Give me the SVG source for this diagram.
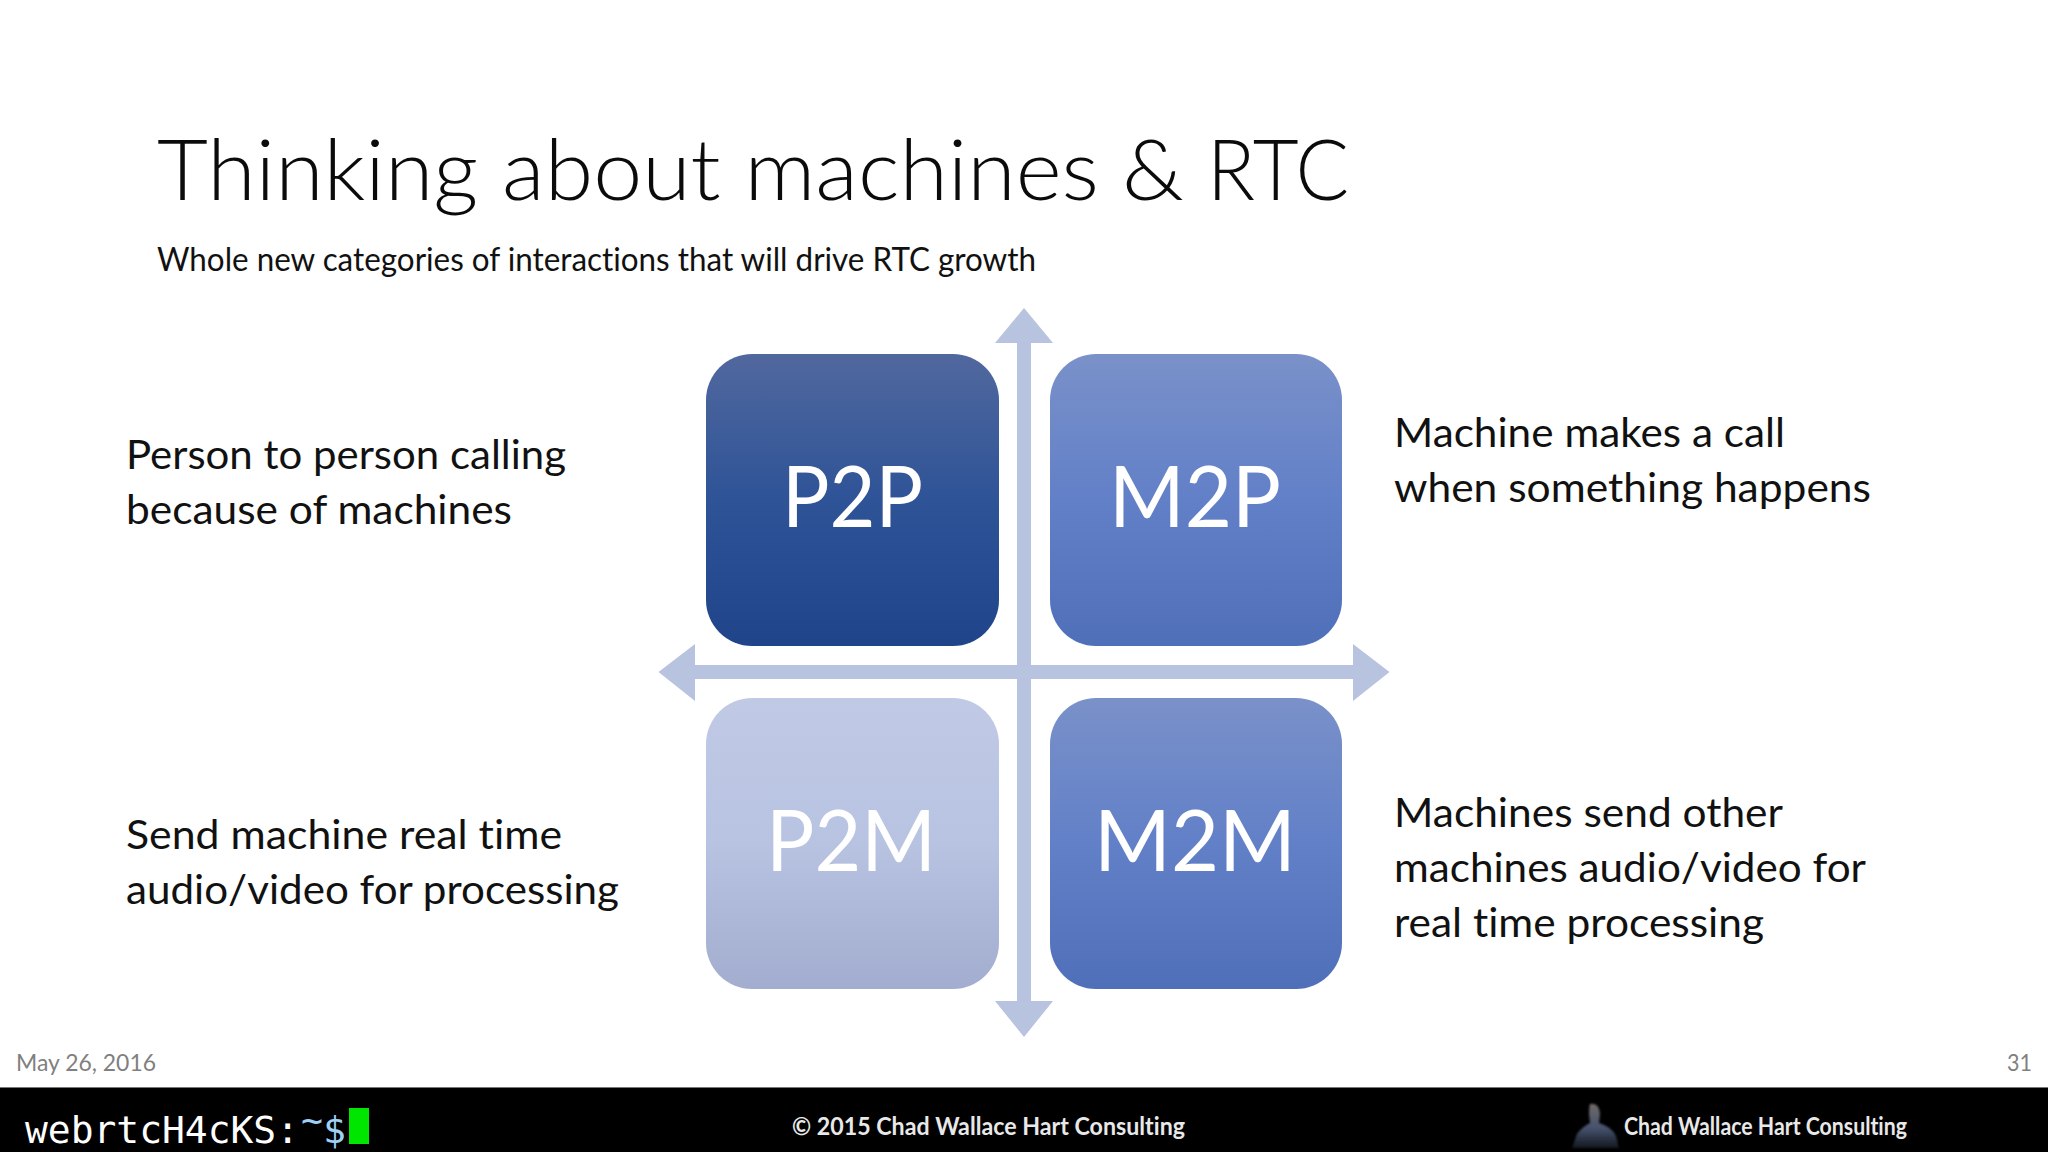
<svg xmlns="http://www.w3.org/2000/svg" width="2048" height="1152" viewBox="0 0 2048 1152">
<defs>
<style>
text{font-family:"Lato","Open Sans","Liberation Sans",sans-serif;font-variant-ligatures:none}
.title{font-size:85px;font-weight:300;fill:#0b0b0b}
.sub{font-size:32px;fill:#111}
.note{font-size:41px;fill:#111}
.lab{font-size:86px;font-weight:400;fill:#fff}
.foot{font-size:23px;fill:#808080}
.bar{font-size:24px;font-weight:700;fill:#e8e8e8}
.mono{font-family:"DejaVu Sans Mono","Liberation Mono",monospace;font-size:38px}
.axis{fill:#b8c3df}
</style>
<linearGradient id="g1" x1="0" y1="0" x2="0" y2="1"><stop offset="0" stop-color="#51689e"/><stop offset="0.5" stop-color="#2e5397"/><stop offset="1" stop-color="#20448a"/></linearGradient>
<linearGradient id="g2" x1="0" y1="0" x2="0" y2="1"><stop offset="0" stop-color="#7a91c9"/><stop offset="0.5" stop-color="#6280c8"/><stop offset="1" stop-color="#4f6fb8"/></linearGradient>
<linearGradient id="g3" x1="0" y1="0" x2="0" y2="1"><stop offset="0" stop-color="#c0cae5"/><stop offset="0.5" stop-color="#b8c3e2"/><stop offset="1" stop-color="#a2adcf"/></linearGradient>
<linearGradient id="g5" x1="0" y1="0" x2="0" y2="1"><stop offset="0" stop-color="#6f6a68"/><stop offset="0.55" stop-color="#46526e"/><stop offset="1" stop-color="#14181f"/></linearGradient>
<filter id="soft" x="-10%" y="-10%" width="120%" height="120%"><feGaussianBlur stdDeviation="1.200"/></filter>
</defs>
<rect width="2048" height="1152" fill="#fff"/>
<text class="title" x="157" y="200" textLength="942" lengthAdjust="spacingAndGlyphs">Thinking about machines</text>
<text class="title" x="1122" y="200" textLength="62" lengthAdjust="spacingAndGlyphs">&amp;</text>
<text class="title" x="1207" y="200" textLength="142" lengthAdjust="spacingAndGlyphs">RTC</text>
<text class="sub" x="157" y="271" textLength="879" lengthAdjust="spacingAndGlyphs">Whole new categories of interactions that will drive RTC growth</text>
<g id="connectors">
<path class="axis" d="M1024 308L1053 343H1031V665H1353V644L1389.500 672L1353 701V679H1031V1001H1053L1024 1037L995 1001H1017V679H695V701L658.500 672L695 644V665H1017V343H995Z"/>
</g>
<g id="p2p"><rect x="706" y="354" width="293" height="292" rx="46" fill="url(#g1)"/><text class="lab" x="782" y="527" textLength="141" lengthAdjust="spacingAndGlyphs">P2P</text></g>
<g id="m2p"><rect x="1050" y="354" width="292" height="292" rx="46" fill="url(#g2)"/><text class="lab" x="1109" y="527" textLength="172" lengthAdjust="spacingAndGlyphs">M2P</text></g>
<g id="p2m"><rect x="706" y="698" width="293" height="291" rx="46" fill="url(#g3)"/><text class="lab" x="766" y="871" textLength="170" lengthAdjust="spacingAndGlyphs">P2M</text></g>
<g id="m2m"><rect x="1050" y="698" width="292" height="291" rx="46" fill="url(#g2)"/><text class="lab" x="1094" y="871" textLength="202" lengthAdjust="spacingAndGlyphs">M2M</text></g>
<text class="note" x="126" y="469" textLength="440" lengthAdjust="spacingAndGlyphs">Person to person calling</text>
<text class="note" x="126" y="524" textLength="386" lengthAdjust="spacingAndGlyphs">because of machines</text>
<text class="note" x="126" y="849" textLength="436" lengthAdjust="spacingAndGlyphs">Send machine real time</text>
<text class="note" x="126" y="904" textLength="493" lengthAdjust="spacingAndGlyphs">audio/video for processing</text>
<text class="note" x="1394" y="447" textLength="391" lengthAdjust="spacingAndGlyphs">Machine makes a call</text>
<text class="note" x="1394" y="502" textLength="477" lengthAdjust="spacingAndGlyphs">when something happens</text>
<text class="note" x="1394" y="827" textLength="389" lengthAdjust="spacingAndGlyphs">Machines send other</text>
<text class="note" x="1394" y="882" textLength="472" lengthAdjust="spacingAndGlyphs">machines audio/video for</text>
<text class="note" x="1394" y="937" textLength="370" lengthAdjust="spacingAndGlyphs">real time processing</text>
<text class="foot" x="16" y="1071" textLength="140" lengthAdjust="spacingAndGlyphs">May 26, 2016</text>
<text class="foot" x="2007" y="1071" textLength="25" lengthAdjust="spacingAndGlyphs">31</text>
<rect y="1087" width="2048" height="65" fill="#000"/>
<rect y="1087" width="2048" height="1" fill="#777"/>
<text class="mono" x="25" y="1143" fill="#fff" textLength="274" lengthAdjust="spacingAndGlyphs">webrtcH4cKS:</text>
<text class="mono" x="301" y="1133" fill="#9fd0f5" textLength="22" lengthAdjust="spacingAndGlyphs">~</text>
<text class="mono" x="323" y="1143" fill="#9fd0f5" textLength="23" lengthAdjust="spacingAndGlyphs">$</text>
<rect x="349" y="1108" width="20" height="36" fill="#00e600"/>
<text class="bar" x="792" y="1135" textLength="393" lengthAdjust="spacingAndGlyphs">© 2015 Chad Wallace Hart Consulting</text>
<text class="bar" x="1624" y="1135" textLength="283" lengthAdjust="spacingAndGlyphs">Chad Wallace Hart Consulting</text>
<path filter="url(#soft)" d="M1590 1104Q1599 1102 1600 1114L1599 1123Q1612 1127 1616 1136L1619 1148H1572L1577 1134Q1582 1127 1590 1123L1589 1114Q1589 1107 1590 1104Z" fill="url(#g5)"/>
</svg>
